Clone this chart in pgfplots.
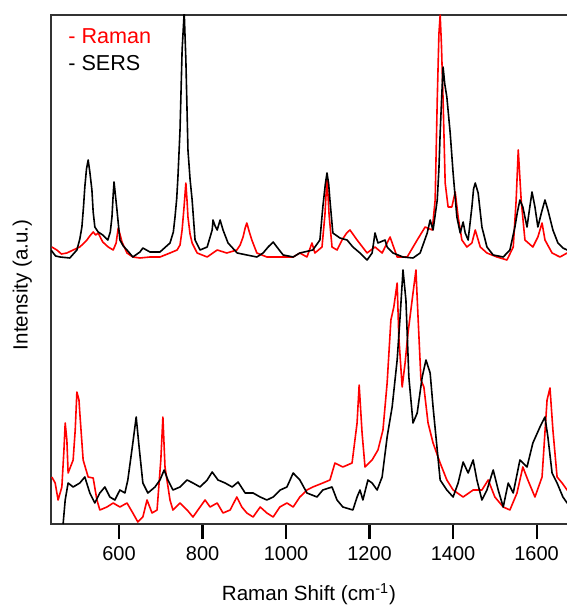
\documentclass[border=0pt]{standalone}
\usepackage{fontspec}
\setmainfont{Liberation Sans}
\usepackage{pgfplots}
\pgfplotsset{compat=1.18}
\usetikzlibrary{calc}

\begin{document}
\begin{tikzpicture}
\begin{axis}[
    name=ax,
    width=261.6pt, height=254.5pt, scale only axis,
    xmin=437, xmax=1690, ymin=0, ymax=509,
    ytick=\empty,
    xtick={600,800,...,1600},
    tick align=outside,
    xtick pos=bottom,
    major tick length=7.5pt,
    every tick/.style={draw=black, line width=1.1pt},
    axis line style={black!80, line width=1pt},
    /pgf/number format/assume math mode=true,
    /pgf/number format/set thousands separator={},
    ticklabel style={font=\fontsize{10}{12}\selectfont},
    xlabel={Raman Shift (cm\textsuperscript{-1})},
    ylabel={Intensity (a.u.)},
    label style={font=\fontsize{10.3}{12}\selectfont},
    xlabel style={at={(axis description cs:0.493,0)}, anchor=center, yshift=-35pt},
    ylabel style={at={(axis description cs:-0.055,0.47)}, anchor=center},
    every axis plot/.append style={line width=0.8pt, line join=round},
]
% upper pair: Raman
\addplot[red] coordinates {
(439,277) (451,274) (462,270) (475,271) (490,274) (506,277) (516,281) (523,284) (530,288) (538,292) (544,289) (550,291)
(556,286) (561,282) (574,277) (586,274) (593,281) (598,296) (602,290) (607,282) (619,271) (633,267) (650,266)
(674,267) (698,267) (722,271) (739,274) (746,279) (751,294) (756,319) (760,341) (763,322) (765,307)
(770,290) (775,281) (787,271) (811,267) (835,274) (858,271) (882,274) (890,279) (897,287) (902,296) (906,301)
(912,292) (918,284) (930,271) (954,267) (985,267) (1017,267) (1033,271) (1050,267) (1062,281)
(1069,271) (1086,277) (1093,309) (1098,347) (1103,309) (1110,277) (1122,274) (1134,284)
(1145,291) (1153,294) (1170,284) (1194,271) (1213,277) (1230,271) (1249,287) (1266,267) (1290,267)
(1314,284) (1333,297) (1350,294) (1357,324) (1362,424) (1366,490) (1369,509) (1372,480) (1376,424) (1381,341)
(1388,317) (1397,317) (1405,332) (1412,307) (1421,284) (1433,277) (1445,281) (1453,294)
(1465,277) (1481,271) (1505,267) (1529,264) (1544,277) (1551,324) (1556,374) (1563,324)
(1572,284) (1591,277) (1603,287) (1613,301) (1620,284) (1637,271) (1656,267) (1673,271)
(1690,268)
};
% upper pair: SERS
\addplot[black] coordinates {
(437,274) (448,268) (459,267) (482,266) (499,274) (506,285) (511,297) (515,318) (518,337) (522,355) (526,364) (530,352) (535,334)
(538,312) (542,297) (550,292) (561,289) (573,284) (579,292) (583,307) (586,330) (588,342) (591,330) (595,314) (602,284)
(610,278) (619,274) (633,267) (650,272) (657,276) (674,272) (698,272) (722,281) (730,292) (734,307)
(738,325) (741,347) (746,394) (751,474) (756,512) (760,464) (765,374) (770,345) (775,324) (782,284)
(794,274) (811,277) (823,294) (825,304) (830,298) (835,294) (842,304) (849,294) (861,281)
(883,271) (906,269) (930,267) (945,271) (957,277) (969,282) (978,277) (993,269)
(1017,267) (1033,271) (1064,274) (1081,284) (1088,317) (1094,340) (1098,351) (1102,340) (1105,324) (1112,291)
(1129,286) (1146,284) (1160,277) (1177,271) (1194,264) (1206,271) (1213,291) (1220,281)
(1237,284) (1242,277) (1256,271) (1280,267) (1304,266) (1321,271) (1338,291) (1345,304)
(1352,294) (1362,324) (1366,355) (1369,391) (1373,430) (1376,457) (1380,440) (1385,427) (1393,391) (1400,351) (1409,307)
(1417,291) (1424,302) (1429,291) (1436,284) (1445,317) (1449,335) (1453,341) (1460,331) (1469,297)
(1481,277) (1496,269) (1520,267) (1536,274) (1548,297) (1554,312) (1560,324) (1567,317) (1577,297)
(1584,318) (1589,332) (1596,317) (1603,297) (1612,312) (1620,324) (1627,314) (1639,294) (1651,281) (1663,276)
(1673,274) (1690,272)
};
% lower pair: Raman
\addplot[red] coordinates {
(439,47) (447,41) (454,24) (463,37) (468,74) (471,101) (475,84) (478,51)
(490,64) (495,94) (499,132) (504,124) (506,111) (514,64) (526,47) (538,46)
(547,24) (554,14) (571,17) (586,21) (602,17) (619,21) (633,11) (645,2)
(657,7) (667,24) (679,11) (691,14) (700,64) (705,107) (710,57) (722,24)
(729,14) (746,21) (763,14) (777,7) (794,17) (806,24) (818,17) (835,21)
(849,11) (866,14) (882,27) (894,17) (906,11) (921,7) (938,17) (954,11)
(969,7) (985,17) (1002,21) (1017,17) (1033,27) (1050,34) (1064,37) (1088,41)
(1105,44) (1117,61) (1136,57) (1158,61) (1170,101) (1175,139) (1182,91) (1189,57)
(1206,64) (1220,74) (1232,94) (1242,141) (1251,204) (1258,217) (1266,241) (1270,187)
(1278,137) (1285,161) (1292,191) (1304,231) (1311,254) (1316,207) (1323,144) (1330,137)
(1340,101) (1352,81) (1369,61) (1385,44) (1400,34) (1424,27) (1448,34) (1469,34)
(1484,44) (1500,27) (1520,17) (1536,14) (1553,31) (1567,57) (1579,44) (1596,27)
(1613,47) (1625,124) (1632,136) (1639,94) (1649,47) (1661,41) (1673,34) (1690,30)
};
% lower pair: SERS
\addplot[black] coordinates {
(466,0) (471,24) (478,41) (490,37) (506,41) (518,47) (530,31) (542,21)
(554,31) (566,37) (578,27) (590,24) (602,34) (614,31) (621,44) (633,81)
(641,107) (648,77) (657,41) (669,31) (686,37) (698,44) (708,54) (717,44)
(729,34) (746,37) (763,44) (777,41) (794,37) (811,44) (823,52) (837,44)
(854,41) (871,37) (885,42) (902,31) (921,31) (938,27) (954,24) (969,27)
(986,34) (1002,37) (1017,51) (1033,44) (1050,31) (1074,27) (1088,34) (1110,37)
(1122,24) (1136,17) (1160,14) (1170,27) (1177,34) (1184,24) (1196,44) (1206,41)
(1218,34) (1230,47) (1242,87) (1254,117) (1266,164) (1273,207) (1280,254) (1287,224)
(1294,147) (1304,101) (1314,111) (1326,147) (1335,164) (1345,151) (1352,117) (1362,74)
(1369,44) (1385,34) (1400,27) (1412,41) (1424,62) (1436,51) (1448,64) (1457,44)
(1469,24) (1481,34) (1496,54) (1508,34) (1520,17) (1532,41) (1544,31) (1560,64)
(1577,57) (1591,81) (1608,97) (1620,107) (1627,87) (1637,51) (1649,41) (1663,27)
(1673,21) (1690,18)
};
\node[anchor=west, inner sep=0pt, text=red, font=\fontsize{10.8}{13}\selectfont]
    at (rel axis cs:0.0325,0.959) {- Raman};
\node[anchor=west, inner sep=0pt, font=\fontsize{10.8}{13}\selectfont]
    at (rel axis cs:0.0325,0.906) {- SERS};
\end{axis}
\pgfresetboundingbox
\useasboundingbox ($(ax.south west)+(-25.5pt,-40.5pt)$) rectangle ($(ax.south west)+(258pt,262pt)$);
\end{tikzpicture}
\end{document}
